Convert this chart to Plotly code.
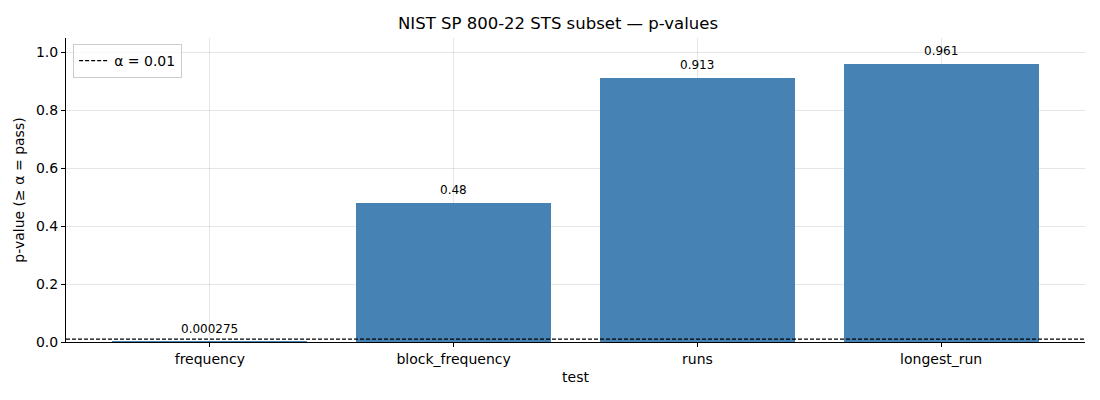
import plotly.graph_objects as go

# data
tests = ["frequency", "block_frequency", "runs", "longest_run"]
p_values = [0.000275, 0.48, 0.913, 0.961]
p_labels = ["0.000275", "0.48", "0.913", "0.961"]
alpha = 0.01

x_pos = list(range(len(tests)))
pad = 0.59
x_lo, x_hi = x_pos[0] - pad, x_pos[-1] + pad

fig = go.Figure()
fig.add_trace(go.Bar(
    x=x_pos, y=p_values, width=0.8,
    marker=dict(color="#4682b4", line=dict(width=0)),
    showlegend=False,
))
fig.add_trace(go.Scatter(
    x=[x_lo, x_hi], y=[alpha, alpha], mode="lines",
    line=dict(color="black", width=1.2, dash="4px,2px"),
    name="α = 0.01",
))

# value labels above bars
for xv, yv, lab in zip(x_pos, p_values, p_labels):
    fig.add_annotation(x=xv, y=yv, text=lab, showarrow=False,
                       xanchor="center", yanchor="bottom", yshift=4,
                       font=dict(size=12, color="black"))

# page body has an 8px margin, so margins are shifted to compensate
fig.update_layout(
    width=1100, height=400,
    paper_bgcolor="white", plot_bgcolor="white",
    font=dict(family="DejaVu Sans", size=14, color="black"),
    title=dict(text="NIST SP 800-22 STS subset — p-values", x=0.5, xanchor="center",
               y=0.9625, yanchor="middle", font=dict(size=16.5)),
    margin=dict(l=58, r=23, t=30, b=66),
    showlegend=True,
    legend=dict(x=0.007, y=0.98, xanchor="left", yanchor="top",
                bgcolor="rgba(255,255,255,0.8)", bordercolor="#cccccc", borderwidth=1,
                font=dict(size=14), tracegroupgap=0),
    bargap=0,
)
fig.update_xaxes(
    range=[x_lo, x_hi], tickvals=x_pos, ticktext=tests, automargin=False,
    showgrid=True, gridcolor="rgba(128,128,128,0.2)", gridwidth=1, layer="above traces",
    showline=True, linecolor="black", linewidth=1,
    ticks="outside", ticklen=4, tickcolor="black", zeroline=False,
    tickfont=dict(size=14),
    title=dict(text="test", standoff=6, font=dict(size=14)),
)
fig.update_yaxes(
    range=[0, 1.05], tickvals=[0, 0.2, 0.4, 0.6, 0.8, 1.0], automargin=False,
    tickformat=".1f",
    showgrid=True, gridcolor="rgba(128,128,128,0.2)", gridwidth=1, layer="above traces",
    showline=True, linecolor="black", linewidth=1,
    ticks="outside", ticklen=4, tickcolor="black", zeroline=False,
    tickfont=dict(size=14),
    title=dict(text="p-value (≥ α = pass)", standoff=8, font=dict(size=14)),
)

fig.write_html("out.html")
